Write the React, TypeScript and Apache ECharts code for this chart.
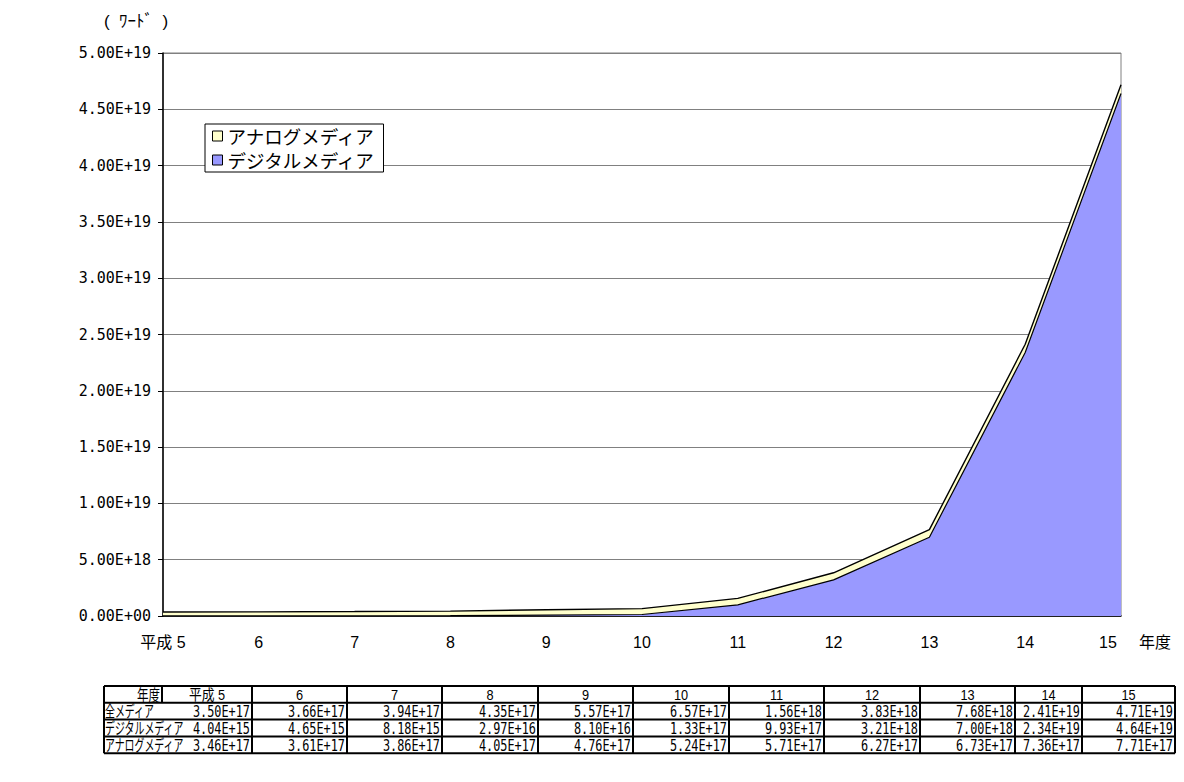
import React, { useEffect, useRef } from "react";
import * as echarts from "echarts";

const categories = ["平成 5", "6", "7", "8", "9", "10", "11", "12", "13", "14", "15"];
const digitalMedia = [4.04e15, 4.65e15, 8.18e15, 2.97e16, 8.1e16, 1.33e17, 9.93e17, 3.21e18, 7.0e18, 2.34e19, 4.64e19];
const analogMedia = [3.46e17, 3.61e17, 3.86e17, 4.05e17, 4.76e17, 5.24e17, 5.71e17, 6.27e17, 6.73e17, 7.36e17, 7.71e17];
const allMedia = [3.5e17, 3.66e17, 3.94e17, 4.35e17, 5.57e17, 6.57e17, 1.56e18, 3.83e18, 7.68e18, 2.41e19, 4.71e19];
const rowLabels = ["全メディア", "デジタルメディア", "アナログメディア"];
const headerLabel = "年度";
const yMin = 0;
const yMax = 5e19;
const yInterval = 5e18;

function sci(v: number): string {
  if (v === 0) return "0.00E+00";
  const [m, e] = v.toExponential(2).split("e");
  const n = parseInt(e, 10);
  return m + "E" + (n < 0 ? "-" : "+") + String(Math.abs(n)).padStart(2, "0");
}

const CJK = "'Liberation Sans', 'Noto Sans CJK JP', sans-serif";
const MONO = "'DejaVu Sans Mono', 'Noto Sans CJK JP', monospace";

// table layout (column borders, in px)
const colEdges = [104, 162, 252, 347, 442, 538, 633, 729, 824, 920, 1015, 1082, 1175];
const tableTop = 686;
const rowH = 16.8;

function txt(text: string, x: number, y: number, align: string, font: string, sx: number) {
  return {
    type: "text",
    x,
    y,
    scaleX: sx,
    style: { text, x: 0, y: 0, textAlign: align, textVerticalAlign: "middle", font, fill: "#000" },
  };
}

function buildTable(): any[] {
  const rows = [categories, allMedia.map(sci), digitalMedia.map(sci), analogMedia.map(sci)];
  const labels = [headerLabel, ...rowLabels];
  const els: any[] = [];
  const left = colEdges[0];
  const right = colEdges[colEdges.length - 1];
  const bottom = tableTop + rowH * rows.length;
  const stroke = { stroke: "#000", lineWidth: 2 };
  for (let r = 0; r <= rows.length; r++) {
    const y = tableTop + r * rowH;
    els.push({ type: "line", shape: { x1: left, y1: y, x2: right, y2: y }, style: stroke });
  }
  colEdges.forEach((x, i) => {
    const y2 = i === 1 ? tableTop + rowH : bottom;
    els.push({ type: "line", shape: { x1: x, y1: tableTop, x2: x, y2 }, style: stroke });
  });
  rows.forEach((row, r) => {
    const cy = tableTop + r * rowH + rowH / 2 + 0.5;
    const lab = labels[r];
    els.push(
      r === 0
        ? txt(lab, colEdges[1] - 2, cy, "right", "16px " + CJK, 0.72)
        : txt(lab, left + 1, cy, "left", "16px " + CJK, 0.62)
    );
    row.forEach((t, c) => {
      const x0 = colEdges[c + 1];
      const x1 = colEdges[c + 2];
      els.push(
        r === 0
          ? txt(t, (x0 + x1) / 2, cy, "center", "15px " + CJK, 0.85)
          : txt(t, x1 - 2, cy, "right", "15px " + MONO, 0.79)
      );
    });
  });
  return els;
}

export default function App() {
  const ref = useRef<HTMLDivElement>(null);
  useEffect(() => {
    if (!ref.current) return;
    const chart = echarts.init(ref.current, undefined, { renderer: "svg" });
    chart.setOption({
      animation: false,
      backgroundColor: "#fff",
      grid: { left: 163, right: 63, top: 53, bottom: 166, show: true, borderColor: "#808080", borderWidth: 1 },
      legend: {
        data: ["アナログメディア", "デジタルメディア"],
        orient: "vertical",
        left: 205,
        top: 124,
        icon: "rect",
        itemWidth: 10,
        itemHeight: 10,
        itemGap: 4,
        padding: [2, 8, 2, 7],
        borderColor: "#000",
        borderWidth: 1,
        backgroundColor: "#fff",
        itemStyle: { borderColor: "#000", borderWidth: 1 },
        textStyle: { fontSize: 18.5, lineHeight: 20, fontFamily: "'Noto Sans CJK JP', sans-serif", color: "#000" },
      },
      xAxis: {
        type: "category",
        data: categories,
        boundaryGap: false,
        axisLine: { lineStyle: { color: "#000", width: 1.5 } },
        axisTick: { show: false },
        axisLabel: {
          margin: 18,
          fontSize: 16,
          fontFamily: CJK,
          color: "#000",
          formatter: (v: string, i: number) => (i === categories.length - 1 ? "{r|" + v + "}" : v),
          rich: { r: { fontSize: 16, fontFamily: CJK, color: "#000", padding: [0, 26, 0, 0] } },
        },
        name: headerLabel,
        nameLocation: "end",
        nameGap: 18,
        nameTextStyle: { fontSize: 16, fontFamily: CJK, color: "#000", verticalAlign: "top", padding: [18, 0, 0, 0] },
      },
      yAxis: {
        type: "value",
        min: yMin,
        max: yMax,
        interval: yInterval,
        axisLine: { show: true, lineStyle: { color: "#000", width: 1.5 } },
        axisTick: { show: true, length: 5, lineStyle: { color: "#000" } },
        splitLine: { lineStyle: { color: "#808080", width: 1 } },
        axisLabel: { margin: 12, fontSize: 15, fontFamily: MONO, color: "#000", formatter: (v: number) => sci(v) },
      },
      series: [
        {
          name: "デジタルメディア",
          type: "line",
          stack: "media",
          data: digitalMedia,
          symbol: "none",
          itemStyle: { color: "#9999FF" },
          lineStyle: { color: "#000", width: 1.2 },
          areaStyle: { color: "#9999FF", opacity: 1 },
        },
        {
          name: "アナログメディア",
          type: "line",
          stack: "media",
          data: analogMedia,
          symbol: "none",
          itemStyle: { color: "#FFFFCC" },
          lineStyle: { color: "#000", width: 1.4 },
          areaStyle: { color: "#FFFFCC", opacity: 1 },
        },
      ],
      graphic: [
        {
          type: "text",
          style: { text: "(  ﾜｰﾄﾞ  )", x: 104, y: 21, textVerticalAlign: "middle", font: "17px " + CJK, fill: "#000" },
        },
        ...buildTable(),
      ],
    });
    return () => chart.dispose();
  }, []);
  return <div ref={ref} style={{ position: "fixed", left: 0, top: 0, width: 1184, height: 782 }} />;
}
